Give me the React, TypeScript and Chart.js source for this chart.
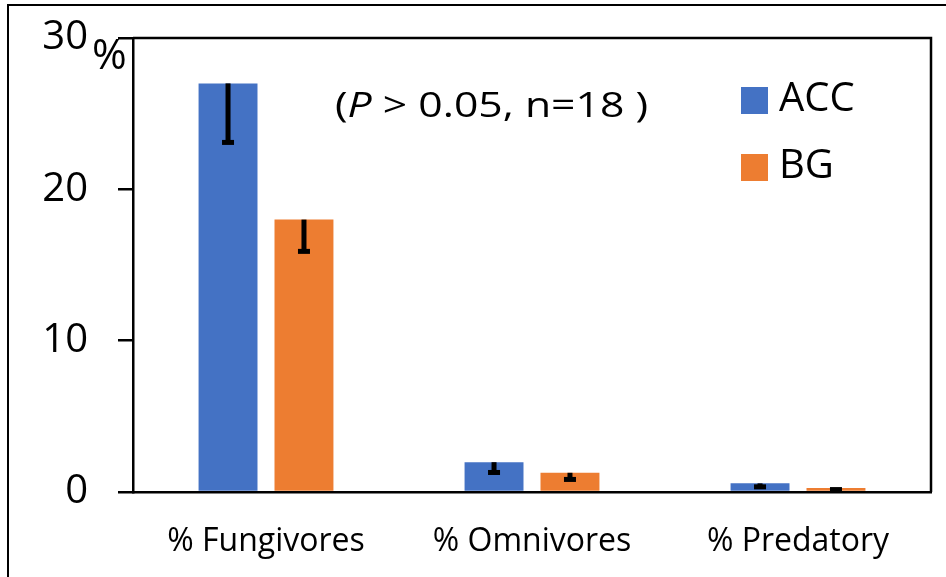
import React, { useEffect, useRef } from "react";
import { Chart, registerables } from "chart.js";

Chart.register(...registerables);

const categories = ["% Fungivores", "% Omnivores", "% Predatory"];
const accValues = [27.0, 1.97, 0.57];
const bgValues = [18.0, 1.27, 0.26];
const accErrors = [3.9, 0.68, 0.23];
const bgErrors = [2.1, 0.44, 0.1];
const yTicks = [0, 10, 20, 30];
const seriesNames = ["ACC", "BG"];
const seriesColors = ["#4472C4", "#ED7D31"];
const annotation = { pre: "(", italic: "P", post: " > 0.05, n=18 )" };

const FONT = "'Open Sans', sans-serif";

export default function App() {
  const ref = useRef<HTMLCanvasElement | null>(null);

  useEffect(() => {
    const canvas = ref.current;
    if (!canvas) return;
    const errs = [accErrors, bgErrors];

    const errorBars = {
      id: "errorBars",
      afterDatasetsDraw(chart: any) {
        const ctx = chart.ctx;
        const yScale = chart.scales.y;
        ctx.save();
        ctx.fillStyle = "#000";
        chart.data.datasets.forEach((ds: any, di: number) => {
          const meta = chart.getDatasetMeta(di);
          meta.data.forEach((el: any, i: number) => {
            const v = ds.data[i];
            const e = errs[di][i];
            const yTop = yScale.getPixelForValue(v);
            const yBot = yScale.getPixelForValue(v - e);
            ctx.fillRect(el.x - 2.5, yTop, 5, yBot - yTop);
            ctx.fillRect(el.x - 6, yBot - 2.5, 12, 5);
          });
        });
        ctx.restore();
      },
    };

    const decor = {
      id: "decor",
      afterDraw(chart: any) {
        const ctx = chart.ctx;
        const a = chart.chartArea;
        ctx.save();
        ctx.strokeStyle = "#000";
        // outer frame
        ctx.lineWidth = 2;
        ctx.beginPath();
        ctx.moveTo(8, 577);
        ctx.lineTo(8, 5);
        ctx.lineTo(946, 5);
        ctx.stroke();
        // plot frame top/right
        ctx.lineWidth = 2.5;
        ctx.beginPath();
        ctx.moveTo(a.left, a.top);
        ctx.lineTo(a.right, a.top);
        ctx.lineTo(a.right, a.bottom);
        ctx.stroke();
        // % unit after top tick
        ctx.fillStyle = "#000";
        ctx.textBaseline = "alphabetic";
        ctx.textAlign = "left";
        ctx.font = `42px ${FONT}`;
        ctx.fillText("%", 92, 69);
        // legend
        seriesNames.forEach((name, i) => {
          const y = 87 + i * 67;
          ctx.fillStyle = seriesColors[i];
          ctx.fillRect(741, y, 27, 27);
          ctx.fillStyle = "#000";
          ctx.font = `40px ${FONT}`;
          ctx.textBaseline = "middle";
          ctx.fillText(name, 779, y + 13);
        });
        // annotation
        const size = 34;
        ctx.textBaseline = "alphabetic";
        ctx.font = `${size}px ${FONT}`;
        const w1 = ctx.measureText(annotation.pre).width;
        ctx.font = `italic ${size}px ${FONT}`;
        const w2 = ctx.measureText(annotation.italic).width;
        ctx.font = `${size}px ${FONT}`;
        const w3 = ctx.measureText(annotation.post).width;
        const total = w1 + w2 + w3;
        const target = 313;
        const sx = target / total;
        ctx.translate(335, 117);
        ctx.scale(sx, 1);
        ctx.font = `${size}px ${FONT}`;
        ctx.fillText(annotation.pre, 0, 0);
        ctx.font = `italic ${size}px ${FONT}`;
        ctx.fillText(annotation.italic, w1, 0);
        ctx.font = `${size}px ${FONT}`;
        ctx.fillText(annotation.post, w1 + w2, 0);
        ctx.restore();
      },
    };

    const chart = new Chart(canvas, {
      type: "bar",
      data: {
        labels: categories,
        datasets: [
          {
            label: seriesNames[0],
            data: accValues,
            backgroundColor: seriesColors[0],
            borderWidth: 0,
            categoryPercentage: 0.571,
            barPercentage: 0.776,
          },
          {
            label: seriesNames[1],
            data: bgValues,
            backgroundColor: seriesColors[1],
            borderWidth: 0,
            categoryPercentage: 0.571,
            barPercentage: 0.776,
          },
        ],
      },
      options: {
        responsive: false,
        animation: false,
        layout: { padding: { top: 38, right: 15, left: 0, bottom: 0 } },
        plugins: {
          legend: { display: false },
          tooltip: { enabled: false },
        },
        scales: {
          x: {
            grid: { display: false },
            border: { display: true, color: "#000", width: 2.5 },
            ticks: {
              color: "#000",
              font: { family: FONT, size: 32 },
              padding: 23,
              maxRotation: 0,
            },
            afterFit(scale: any) {
              scale.height = 85;
              scale.paddingLeft = 0;
              scale.paddingRight = 0;
            },
          },
          y: {
            min: 0,
            max: 30,
            afterBuildTicks(scale: any) {
              scale.ticks = yTicks.map((v) => ({ value: v }));
            },
            grid: {
              drawOnChartArea: false,
              drawTicks: true,
              tickLength: 15,
              color: "#000",
              lineWidth: 2.5,
            },
            border: { display: true, color: "#000", width: 2.5 },
            ticks: {
              color: "#000",
              font: { family: FONT, size: 40 },
              padding: 30,
              callback: (v: any) => String(v),
            },
            afterFit(scale: any) {
              scale.width = 133;
              scale.paddingTop = 0;
              scale.paddingBottom = 0;
            },
          },
        },
      },
      plugins: [errorBars, decor],
    });
    return () => chart.destroy();
  }, []);

  return (
    <div style={{ position: "fixed", left: 0, top: 0, width: 946, height: 577, background: "#fff" }}>
      <canvas ref={ref} width={946} height={577} />
    </div>
  );
}
